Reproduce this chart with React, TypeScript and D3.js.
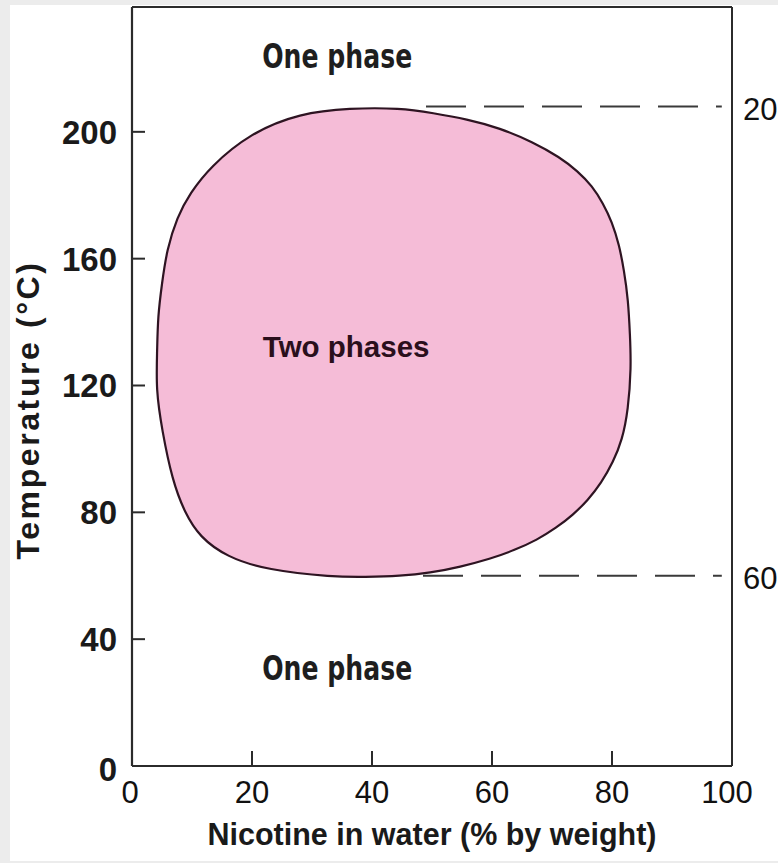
import React from "react";
import * as d3 from "d3";

// Binodal (two-phase boundary) of nicotine–water, traced clockwise from the left side
const nicotinePct = [4.2, 4.3, 5.0, 5.8, 7.5, 9.7, 13.0, 19.7, 28.0, 36.3, 44.7, 50.2, 55.8, 61.3, 66.8, 71.3, 74.3, 76.7, 78.5, 80.0, 81.2, 82.0, 82.7, 83.0, 83.2, 82.7, 81.7, 80.2, 78.2, 76.0, 73.5, 70.7, 67.5, 63.8, 59.7, 54.7, 49.7, 44.7, 38.8, 33.5, 22.5, 15.8, 11.3, 8.8, 6.7, 5.0, 4.0];
const tempC = [131.2, 141.6, 152.3, 162.7, 173.1, 180.7, 188.9, 199.6, 205.9, 207.5, 207.5, 205.9, 204.0, 201.2, 196.8, 192.0, 187.6, 182.9, 177.5, 171.6, 164.3, 156.4, 147.0, 135.9, 125.8, 112.3, 102.8, 95.9, 89.2, 83.9, 79.2, 75.1, 71.3, 68.1, 65.3, 62.8, 60.9, 59.9, 59.6, 59.6, 61.8, 65.9, 72.2, 79.8, 90.2, 106.0, 118.6];

const xTicks = [20, 40, 60, 80, 100];
const yTicks = [40, 80, 120, 160, 200];
const criticalTemps = [208, 60];
const criticalStart = [49, 48.5];
const criticalLabels = ["208", "60"];

const regionLabels = ["One phase", "Two phases", "One phase"];
const regionX = [21.7, 21.8, 21.7];
const regionY = [220, 129, 27];

export default function App() {
  const W = 778;
  const H = 863;
  const left = 132, right = 732, top = 5, bottom = 766;
  const x = d3.scaleLinear().domain([0, 100]).range([left, right]);
  const y = d3.scaleLinear().domain([0, 240]).range([bottom, top]);

  const pts: [number, number][] = nicotinePct.map((n, i) => [n, tempC[i]]);
  const line = d3
    .line<[number, number]>()
    .x((d) => x(d[0]))
    .y((d) => y(d[1]))
    .curve(d3.curveBasisClosed);

  const axisColor = "#2b2b2b";
  const boldFont = "'Liberation Sans', Arial, sans-serif";
  const narrowFont = "'DejaVu Sans', 'Liberation Sans', sans-serif";

  return (
    <svg width={W} height={H} style={{ position: "absolute", left: 0, top: 0 }}>
      <rect x={0} y={0} width={W} height={H} fill="#ececec" />
      <rect x={10} y={5} width={W - 10} height={856} fill="#ffffff" />

      {/* two-phase region */}
      <path d={line(pts) || ""} fill="#f5bcd7" stroke="#2e1422" strokeWidth={2.2} />

      {/* critical temperature dashed lines */}
      {criticalTemps.map((t, i) => (
        <line
          key={"c" + i}
          x1={x(criticalStart[i])}
          x2={x(98.3)}
          y1={y(t)}
          y2={y(t)}
          stroke="#3a3a3a"
          strokeWidth={2}
          strokeDasharray="40 18"
        />
      ))}
      {criticalTemps.map((t, i) => (
        <text
          key={"cl" + i}
          x={right + 11}
          y={y(t) + 2}
          dy="0.36em"
          fontFamily={boldFont}
          fontSize={31}
          fill="#111"
        >
          {criticalLabels[i]}
        </text>
      ))}

      {/* frame */}
      <line x1={left} x2={left} y1={top + 2} y2={bottom} stroke={axisColor} strokeWidth={2.2} />
      <line x1={left} x2={right} y1={bottom} y2={bottom} stroke={axisColor} strokeWidth={2.2} />
      <line x1={left} x2={right} y1={top + 2} y2={top + 2} stroke={axisColor} strokeWidth={2} />
      <line x1={right} x2={right} y1={top + 2} y2={bottom} stroke={axisColor} strokeWidth={2} />

      {/* y ticks */}
      {yTicks.map((t) => (
        <line key={"yt" + t} x1={left} x2={left + 13} y1={y(t)} y2={y(t)} stroke={axisColor} strokeWidth={2} />
      ))}
      {[0, ...yTicks].map((t) => (
        <text
          key={"yl" + t}
          x={left - 15}
          y={y(t) + (t === 0 ? 3 : 0)}
          dy="0.36em"
          textAnchor="end"
          fontFamily={boldFont}
          fontWeight="bold"
          fontSize={33}
          fill="#1a1a1a"
        >
          {t}
        </text>
      ))}

      {/* x ticks */}
      {xTicks.filter((t) => t < 100).map((t) => (
        <line key={"xt" + t} x1={x(t)} x2={x(t)} y1={bottom} y2={bottom - 15} stroke={axisColor} strokeWidth={2} />
      ))}
      {[0, ...xTicks].map((t) => (
        <text
          key={"xl" + t}
          x={x(t) - (t === 100 ? 5 : t === 0 ? 2 : 0)}
          y={803}
          textAnchor="middle"
          fontFamily={boldFont}
          fontSize={31}
          fill="#111"
        >
          {t}
        </text>
      ))}

      {/* axis titles */}
      <text
        x={(left + right) / 2}
        y={845}
        textAnchor="middle"
        fontFamily={boldFont}
        fontWeight="bold"
        fontSize={30.5}
        fill="#1a1a1a"
      >
        Nicotine in water (% by weight)
      </text>
      <text
        transform={`translate(39, 410) rotate(-90)`}
        textAnchor="middle"
        fontFamily={boldFont}
        fontWeight="bold"
        fontSize={32}
        letterSpacing={2.6}
        fill="#1a1a1a"
      >
        Temperature (°C)
      </text>

      {/* region labels */}
      {regionLabels.map((s, i) =>
        i === 1 ? (
          <text
            key={"r" + i}
            x={x(regionX[i])}
            y={y(regionY[i])}
            fontFamily={boldFont}
            fontWeight="bold"
            fontSize={29.5}
            fill="#2a0f1c"
          >
            {s}
          </text>
        ) : (
          <text
            key={"r" + i}
            x={x(regionX[i])}
            y={y(regionY[i])}
            fontFamily={narrowFont}
            fontWeight="bold"
            fontSize={34}
            textLength={150}
            lengthAdjust="spacingAndGlyphs"
            fill="#1e1e1e"
          >
            {s}
          </text>
        )
      )}
    </svg>
  );
}
